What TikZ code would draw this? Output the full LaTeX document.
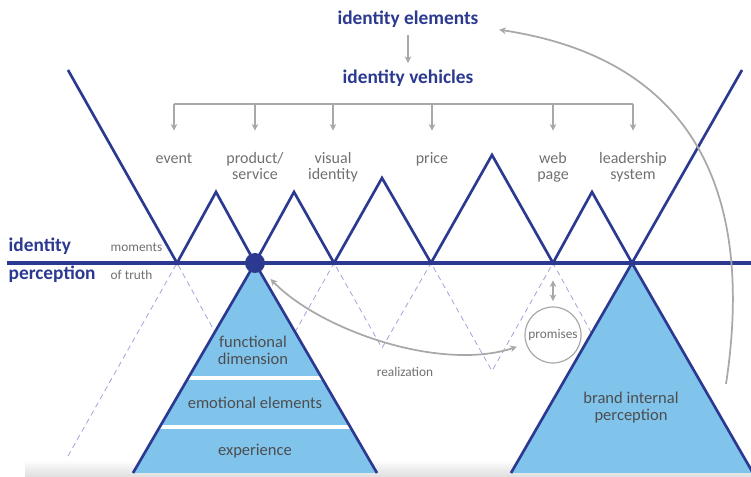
\documentclass[tikz,border=0pt]{standalone}
\usepackage{fontspec}
\setmainfont{Carlito}
\usetikzlibrary{arrows.meta}

\definecolor{navy}{HTML}{2B3990}
\definecolor{skyfill}{HTML}{80C4EC}
\definecolor{arrowgrey}{HTML}{A8A8A8}
\definecolor{labelgrey}{HTML}{707070}
\definecolor{textgrey}{HTML}{4D4D4F}
\definecolor{dashblue}{HTML}{A0A4D8}

\begin{document}
\begin{tikzpicture}[x = 0.75pt, y = -0.75pt,
                        greytip/.tip = {Stealth[length = 5pt, width = 5pt, inset = 1.5pt]},
                        zig/.style = {navy, line width = 2pt, line join = miter},
                        reflect/.style = {dashblue, line width = 0.6pt, dash pattern = on 4pt off 3pt},
                        greyarrow/.style = {arrowgrey, line width = 1.3pt, -greytip},
                        twoway/.style = {arrowgrey, line width = 1.3pt, greytip-greytip},
                        heading/.style = {navy, font = \fontsize{14.5}{16}\selectfont\bfseries},
                        vehicle/.style = {labelgrey, align = center, anchor = north,
                                          font = \fontsize{12}{12}\selectfont, execute at begin node = \strut},
                        layer/.style = {textgrey, align = center, anchor = north,
                                        font = \fontsize{12.4}{12.75}\selectfont, execute at begin node = \strut},
                        tag/.style = {labelgrey, font = \fontsize{10}{11}\selectfont}]
      \useasboundingbox (0, 0) rectangle (751, 477);
      \shade [top color = white, bottom color = black!13] (25, 460) rectangle (751, 477);

      \coordinate (top l) at (68, 70);     \coordinate (top r) at (742, 70);
      \coordinate (m1) at (177, 263);      \coordinate (p1) at (216, 192);    \coordinate (q1) at (216, 334);
      \coordinate (m2) at (255, 263);      \coordinate (p2) at (294, 192);    \coordinate (q2) at (294, 334);
      \coordinate (m3) at (334, 263);      \coordinate (p3) at (382, 178);    \coordinate (q3) at (382, 348);
      \coordinate (m4) at (431, 263);      \coordinate (p4) at (492, 155);    \coordinate (q4) at (492, 371);
      \coordinate (m5) at (553, 263);      \coordinate (p5) at (592, 192);    \coordinate (q5) at (592, 334);
      \coordinate (m6) at (632, 263);
      \coordinate (q0) at (68, 456);       \coordinate (q6) at (742, 456);

      % mirrored moments below the line
      \draw [reflect] (q0) -- (m1) -- (q1) -- (m2) -- (q2) -- (m3) -- (q3) -- (m4) -- (q4) -- (m5) -- (q5) -- (m6) -- (q6);

      % perception pyramids
      \fill [skyfill] (m2) -- (133, 473) -- (377, 473) -- cycle;
      \begin{scope}
        \clip (m2) -- (133, 473) -- (377, 473) -- cycle;
        \draw [black!25, line width = 3.6pt] (100, 378) -- (400, 378);
        \draw [black!25, line width = 3.6pt] (100, 427) -- (400, 427);
        \draw [white, line width = 2.4pt] (100, 378) -- (400, 378);
        \draw [white, line width = 2.4pt] (100, 427) -- (400, 427);
      \end{scope}
      \draw [zig] (133, 473) -- (m2) -- (377, 473);
      \fill [skyfill] (m6) -- (511, 473) -- (753, 473) -- cycle;
      \draw [zig] (511, 473) -- (m6) -- (753, 473);

      \draw [zig] (top l) -- (m1) -- (p1) -- (m2) -- (p2) -- (m3) -- (p3) -- (m4) -- (p4) -- (m5) -- (p5) -- (m6) -- (top r);
      \draw [navy, line width = 2.4pt] (7, 263) -- (751, 263);
      \node [circle, fill = navy, minimum size = 15pt, inner sep = 0pt] (truth) at (m2) {};

      \node [heading, anchor = base west] (identity) at (4, 252) {identity};
      \node [heading, anchor = base west] (perception) at (4, 280) {perception};
      \node [tag, anchor = base west] (moments) at (106, 252) {moments};
      \node [tag, anchor = base west] (oftruth) at (106, 280) {of truth};

      \node [heading, anchor = base] (elements) at (408, 25) {identity elements};
      \node [heading, anchor = base] (vehicles) at (408, 84) {identity vehicles};
      \draw [greyarrow, shorten <= 2pt, shorten >= 2pt] (elements.south) -- (vehicles.north);

      \coordinate (bar) at (408, 104);
      \node [vehicle] (event) at (174, 148) {event};
      \node [vehicle] (product) at (255, 148) {product/\\service};
      \node [vehicle] (visual) at (333, 148) {visual\\identity};
      \node [vehicle] (price) at (432, 148) {price};
      \node [vehicle] (web) at (553, 148) {web\\page};
      \node [vehicle] (leader) at (633, 148) {leadership\\system};
      \draw [arrowgrey, line width = 1.3pt] (event.north |- bar) -- (leader.north |- bar);
      \foreach \n in {event, product, visual, price, web, leader}
        \draw [greyarrow, shorten >= 13pt] (\n.north |- bar) -- (\n.north);

      \node [layer] (functional) at (253, 331) {functional\\dimension};
      \node [layer] (emotional) at (255, 392) {emotional elements};
      \node [layer] (experience) at (255, 439) {experience};
      \node [layer] (internal) at (631, 387) {brand internal\\perception};

      \node [circle, draw = arrowgrey, line width = 0.9pt, minimum size = 42pt, inner sep = 0pt,
             font = \fontsize{10}{11}\selectfont, text = labelgrey] (promises) at (553, 335) {promises};
      \node [tag, anchor = base] (realization) at (405, 377) {realization};
      \draw [twoway, shorten <= 13pt, shorten >= 4pt] (m5) -- (promises);
      \draw [twoway, shorten <= 9pt, shorten >= 7pt] (truth) .. controls (320, 330) and (440, 372) .. (promises);

      \coordinate (loop foot) at (726, 384);
      \draw [greyarrow] (loop foot) .. controls (754, 200) and (700, 60) .. ([shift = {(16, 10)}] elements.east);
    \end{tikzpicture}
\end{document}
